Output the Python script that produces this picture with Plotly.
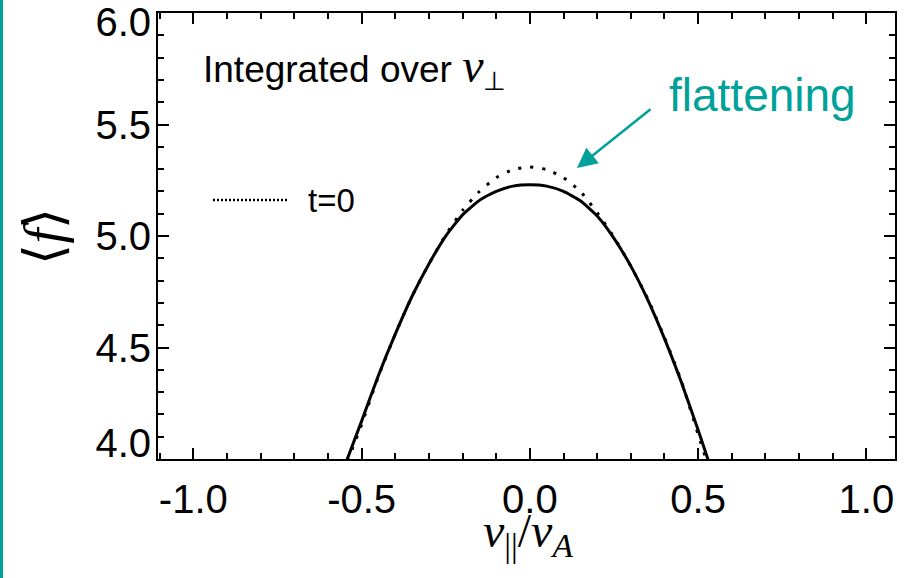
import plotly.graph_objects as go

# ---- data ----
v_par = [-0.58, -0.50, -0.45, -0.40, -0.35, -0.30, -0.25, -0.20, -0.15, -0.10, -0.05,
         0.00, 0.05, 0.10, 0.15, 0.20, 0.25, 0.30, 0.35, 0.40, 0.45, 0.50, 0.56]
f_final = [3.85, 4.17, 4.375, 4.56, 4.73, 4.875, 5.00, 5.095, 5.16, 5.20, 5.224,
           5.23, 5.224, 5.20, 5.158, 5.09, 4.99, 4.865, 4.715, 4.54, 4.345, 4.13, 3.86]
f_t0 = [3.84, 4.155, 4.37, 4.56, 4.73, 4.875, 5.005, 5.115, 5.20, 5.262, 5.298,
        5.31, 5.298, 5.262, 5.20, 5.105, 4.995, 4.865, 4.72, 4.545, 4.35, 4.11, 3.83]

x_ticks = [-1.0, -0.5, 0.0, 0.5, 1.0]
x_ticklabels = ["-1.0", "-0.5", "0.0", "0.5", "1.0"]
y_ticks = [4.0, 4.5, 5.0, 5.5, 6.0]
y_ticklabels = ["4.0", "4.5", "5.0", "5.5", "6.0"]

legend_label = "t=0"
TEAL = "#00A19B"
W, H = 908, 578
ML, MR, MT, MB = 158, 13, 13, 119
PW, PH = W - ML - MR, H - MT - MB
Y_RANGE = [4.0, 6.0005]
# pixel nudges of the y tick labels (end labels pulled inside the frame, as in the reference)
y_label_nudge_px = [16, 0, 0, 0, -9]
px_per_unit = PH / (Y_RANGE[1] - Y_RANGE[0])
y_label_pos = [t + n / px_per_unit for t, n in zip(y_ticks, y_label_nudge_px)]

fig = go.Figure()
fig.add_trace(go.Scatter(x=v_par, y=f_t0, mode="lines", name=legend_label,
                         line=dict(color="black", width=3, dash="3px,9px", shape="spline", smoothing=0.5),
                         showlegend=False))
fig.add_trace(go.Scatter(x=v_par, y=f_final, mode="lines", name="final",
                         line=dict(color="black", width=3, shape="spline", smoothing=0.5),
                         showlegend=False))

tickfont = dict(family="Liberation Sans, Arial, sans-serif", size=40, color="black")
axis_common = dict(showline=True, linecolor="black", linewidth=2, mirror="ticks",
                   ticks="inside", ticklen=11, tickwidth=2, tickcolor="black",
                   showgrid=False, zeroline=False, automargin=False,
                   ticklabeloverflow="allow", tickfont=tickfont,
                   minor=dict(ticks="inside", ticklen=6, tickwidth=2, tickcolor="black", dtick=0.1, showgrid=False))

fig.update_xaxes(range=[-1.105, 1.085], tickvals=x_ticks, ticktext=x_ticklabels,
                 ticklabelstandoff=4, **axis_common)
fig.update_yaxes(range=Y_RANGE, tickvals=y_ticks, showticklabels=False,
                 title=dict(text="⟨<i>f</i>⟩",
                            font=dict(family="Liberation Serif, serif", size=54, color="black"),
                            standoff=76),
                 **axis_common)
# label-only axis for the y tick labels
fig.update_layout(yaxis2=dict(overlaying="y", side="left", range=Y_RANGE,
                              tickvals=y_label_pos, ticktext=y_ticklabels,
                              ticks="", showline=False, showgrid=False, zeroline=False,
                              automargin=False, ticklabeloverflow="allow",
                              ticklabelstandoff=6, tickfont=tickfont))
fig.add_trace(go.Scatter(x=[None], y=[None], yaxis="y2", showlegend=False, hoverinfo="skip"))

# x-axis title
fig.add_annotation(xref="paper", yref="paper", x=(528 - ML) / PW, y=-(534 - H + MB) / PH,
                   xanchor="center", yanchor="middle", showarrow=False,
                   text="<i>v</i><sub>||</sub>/<i>v</i><sub><i>A</i></sub>",
                   font=dict(family="Liberation Serif, serif", size=48, color="black"))

# teal bar on left edge
fig.add_shape(type="rect", xref="paper", yref="paper",
              x0=-ML / PW, x1=-(ML - 3) / PW, y0=-MB / PH, y1=1 + MT / PH,
              fillcolor=TEAL, line=dict(width=0), layer="above")

# manual legend
fig.add_shape(type="line", xref="paper", yref="paper",
              x0=(213 - ML) / PW, x1=(288 - ML) / PW,
              y0=1 - (200 - MT) / PH, y1=1 - (200 - MT) / PH,
              line=dict(color="black", width=2.5, dash="2px,2px"))
fig.add_annotation(xref="paper", yref="paper", x=(306 - ML) / PW, y=1 - (200 - MT) / PH,
                   xanchor="left", yanchor="middle", showarrow=False,
                   text=legend_label,
                   font=dict(family="Liberation Sans, Arial, sans-serif", size=33, color="black"))

# text label
fig.add_annotation(xref="paper", yref="paper", x=(201 - ML) / PW, y=1 - (67 - MT) / PH,
                   xanchor="left", yanchor="middle", showarrow=False,
                   text="Integrated over <span style='font-family:Liberation Serif;font-size:48px'><i>v</i></span><sub>⊥</sub>",
                   font=dict(family="Liberation Sans, Arial, sans-serif", size=37, color="black"))

# flattening annotation
fig.add_annotation(xref="paper", yref="paper", x=(762 - ML) / PW, y=1 - (95 - MT) / PH,
                   xanchor="center", yanchor="middle", showarrow=False,
                   text="flattening",
                   font=dict(family="Liberation Sans, Arial, sans-serif", size=46, color=TEAL))
fig.add_annotation(x=0.14, y=5.305, xref="x", yref="y", text="", showarrow=True,
                   ax=75, ay=-60, arrowhead=2, arrowsize=1.6, arrowwidth=2.5,
                   arrowcolor=TEAL)

fig.update_layout(width=W, height=H, margin=dict(l=ML, r=MR, t=MT, b=MB),
                  paper_bgcolor="white", plot_bgcolor="white", showlegend=False)

fig.write_html("out.html", config={"displayModeBar": False},
               post_script="document.body.style.margin='0';document.body.style.padding='0';")
